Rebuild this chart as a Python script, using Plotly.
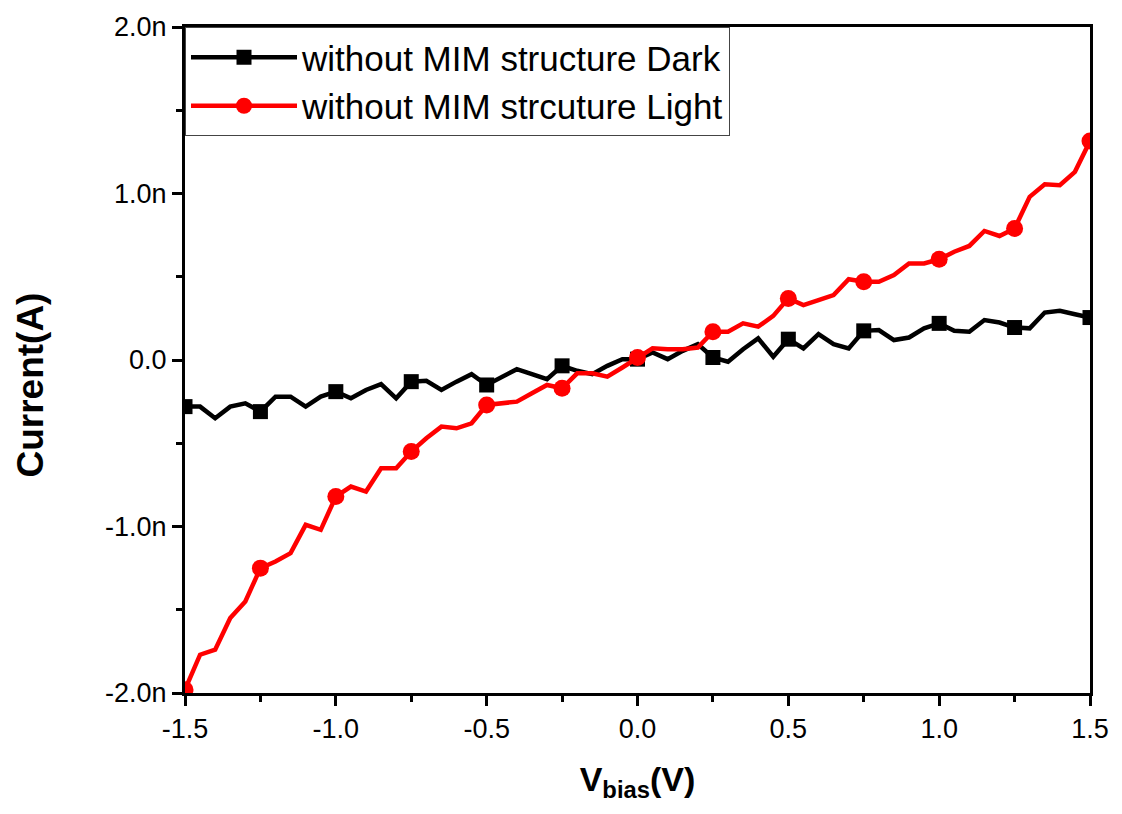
import plotly.graph_objects as go

# Bias voltage (V), 0.05 V step
v_bias = [round(-1.5 + 0.05 * i, 2) for i in range(61)]

# Current in nA
dark_nA = [-0.28, -0.28, -0.35, -0.28, -0.26, -0.31, -0.22, -0.22, -0.28, -0.22,
           -0.19, -0.23, -0.18, -0.145, -0.23, -0.13, -0.125, -0.18, -0.13, -0.085,
           -0.15, -0.10, -0.055, -0.085, -0.115, -0.035, -0.065, -0.085, -0.035, 0.005,
           0.005, 0.045, 0.005, 0.055, 0.095, 0.015, -0.01, 0.065, 0.13, 0.02,
           0.125, 0.07, 0.155, 0.095, 0.07, 0.175, 0.18, 0.12, 0.135, 0.19,
           0.22, 0.175, 0.17, 0.24, 0.225, 0.195, 0.19, 0.285, 0.295, 0.275,
           0.255]
light_nA = [-1.98, -1.77, -1.74, -1.55, -1.45, -1.25, -1.21, -1.16, -0.99, -1.02,
            -0.82, -0.76, -0.79, -0.65, -0.65, -0.55, -0.47, -0.40, -0.41, -0.38,
            -0.27, -0.26, -0.25, -0.20, -0.15, -0.17, -0.08, -0.08, -0.10, -0.045,
            0.015, 0.07, 0.065, 0.065, 0.075, 0.17, 0.17, 0.22, 0.20, 0.265,
            0.37, 0.33, 0.36, 0.39, 0.485, 0.47, 0.47, 0.51, 0.58, 0.58,
            0.605, 0.65, 0.685, 0.775, 0.745, 0.79, 0.98, 1.055, 1.05, 1.13,
            1.315]

series_names = ["without MIM structure Dark", "without MIM strcuture Light"]
y_tick_vals = [-2, -1, 0, 1, 2]
y_tick_text = ["-2.0n", "-1.0n", "0.0", "1.0n", "2.0n"]
x_tick_vals = [-1.5, -1.0, -0.5, 0.0, 0.5, 1.0, 1.5]
x_tick_text = ["-1.5", "-1.0", "-0.5", "0.0", "0.5", "1.0", "1.5"]

marker_every = 5
FONT = "Liberation Sans, Arial, sans-serif"

fig = go.Figure()
specs = [
    (dark_nA, "black", "square", 15),
    (light_nA, "#ff0000", "circle", 17),
]
for (vals, col, sym, msize), name in zip(specs, series_names):
    # full line
    fig.add_trace(go.Scatter(x=v_bias, y=vals, mode="lines",
                             line=dict(color=col, width=4.5),
                             showlegend=False, hoverinfo="skip"))
    # markers every 0.25 V
    fig.add_trace(go.Scatter(x=v_bias[::marker_every], y=vals[::marker_every],
                             mode="markers",
                             marker=dict(color=col, symbol=sym, size=msize),
                             showlegend=False))
    # legend entry
    fig.add_trace(go.Scatter(x=[None], y=[None], mode="lines+markers", name=name,
                             line=dict(color=col, width=4.5),
                             marker=dict(color=col, symbol=sym, size=msize)))

axis_common = dict(showline=True, linecolor="black", linewidth=3, mirror=True,
                   ticks="outside", ticklen=10, tickwidth=3, tickcolor="black",
                   showgrid=False, zeroline=False,
                   tickfont=dict(family=FONT, size=27, color="black"))

fig.update_xaxes(range=[-1.5, 1.5], tickvals=x_tick_vals, ticktext=x_tick_text,
                 minor=dict(tickvals=[-1.25, -0.75, -0.25, 0.25, 0.75, 1.25],
                            ticks="outside", ticklen=6, tickwidth=3, tickcolor="black"),
                 title=dict(text="<b>V<sub>bias</sub>(V)</b>",
                            font=dict(family=FONT, size=34, color="black"),
                            standoff=24),
                 **axis_common)
fig.update_yaxes(range=[-2, 2], tickvals=y_tick_vals, ticktext=y_tick_text,
                 minor=dict(tickvals=[-1.5, -0.5, 0.5, 1.5],
                            ticks="outside", ticklen=6, tickwidth=3, tickcolor="black"),
                 **axis_common)

# y-axis title placed like the original (slightly below the axis centre)
fig.add_annotation(text="<b>Current(A)</b>", xref="paper", yref="paper",
                   x=-0.171, y=0.462, xanchor="center", yanchor="middle",
                   textangle=-90, showarrow=False,
                   font=dict(family=FONT, size=37, color="black"))

fig.update_layout(
    width=1122, height=814,
    margin=dict(l=185, r=32, t=22, b=121),
    plot_bgcolor="white", paper_bgcolor="white",
    showlegend=True,
    legend=dict(x=0, y=1, xanchor="left", yanchor="top",
                bgcolor="white", bordercolor="#444", borderwidth=1,
                font=dict(family=FONT, size=35, color="black"),
                itemwidth=106, tracegroupgap=0),
)

fig.write_html("out.html")
